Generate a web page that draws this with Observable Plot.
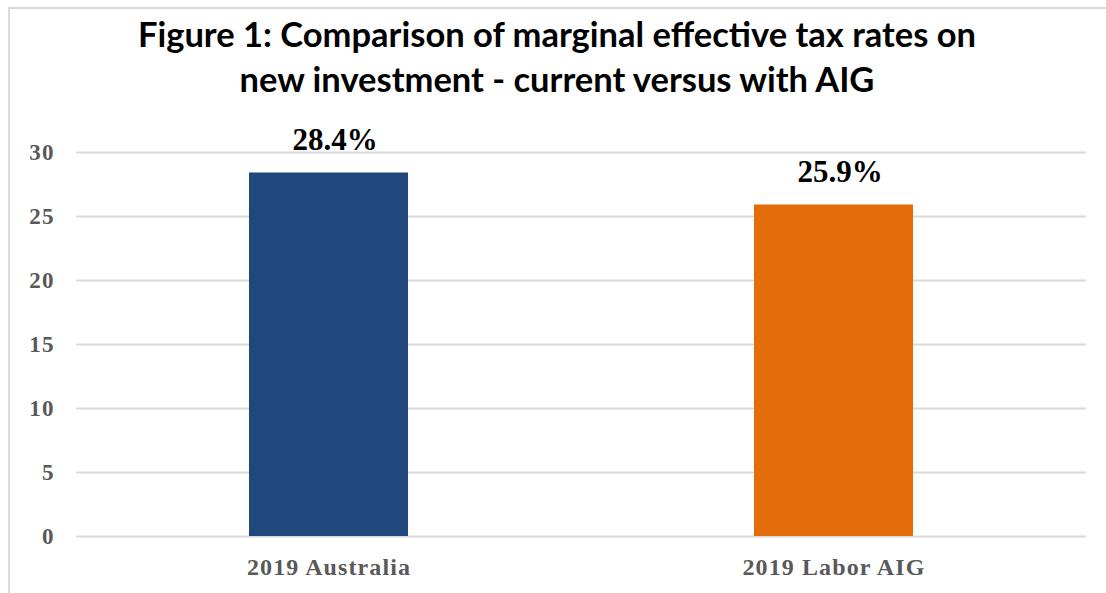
<!DOCTYPE html>
<html>
<head>
<meta charset="utf-8">
<script src="https://cdn.jsdelivr.net/npm/d3@7"></script>
<script src="https://cdn.jsdelivr.net/npm/@observablehq/plot@0.6"></script>
<style>
  html, body { margin: 0; padding: 0; background: #fff; width: 1106px; height: 593px; overflow: hidden; }
  #frame { position: absolute; left: 8px; top: 7px; width: 1110px; height: 600px; border: 2px solid #d9d9d9; box-sizing: border-box; }
  #title { position: absolute; left: 0; top: 11px; width: 1114px; text-align: center; font-family: Lato, "Open Sans", sans-serif; font-weight: 700; font-size: 34.5px; line-height: 45px; color: #000; }
  #chart { position: absolute; left: 0; top: 112px; }
</style>
</head>
<body>
<div id="frame"></div>
<div id="title">Figure 1: Comparison of marginal effective tax rates on<br>new investment - current versus with AIG</div>
<div id="chart"></div>
<script>
const categories = ["2019 Australia", "2019 Labor AIG"];
const values = [28.4, 25.9];
const labels = ["28.4%", "25.9%"];
const colors = ["#1f497d", "#e46c0a"];
const yTicks = [0, 5, 10, 15, 20, 25, 30];

const data = categories.map((c, i) => ({category: c, value: values[i], label: labels[i], color: colors[i]}));

const plot = Plot.plot({
  width: 1106,
  height: 481,
  marginTop: 40,
  marginBottom: 57,
  marginLeft: 76,
  marginRight: 20,
  style: {fontFamily: "'Liberation Serif', serif", background: "transparent"},
  x: {domain: categories, paddingInner: 0.685, paddingOuter: 0.3425, label: null},
  y: {domain: [0, 30], ticks: yTicks, label: null},
  marks: [
    Plot.ruleY(yTicks, {stroke: "#d9d9d9", strokeWidth: 2}),
    Plot.barY(data, {x: "category", y: "value", fill: "color"}),
    Plot.text(data, {x: "category", y: "value", text: "label", dy: -33, dx: 6, fontSize: 31, fontWeight: "bold", fill: "#000", textAnchor: "middle", lineAnchor: "middle"}),
    Plot.axisY({ticks: yTicks, tickSize: 0, tickPadding: 22, fontSize: 23, fontWeight: "bold", fill: "#595959", label: null}),
    Plot.axisX({tickSize: 0, tickPadding: 21, fontSize: 24, fontWeight: "bold", fill: "#595959", label: null})
  ]
});
plot.querySelectorAll("[aria-label='y-axis tick label'] text, [aria-label='x-axis tick label'] text").forEach(t => t.style.letterSpacing = "1.1px");
document.getElementById("chart").appendChild(plot);
</script>
</body>
</html>
